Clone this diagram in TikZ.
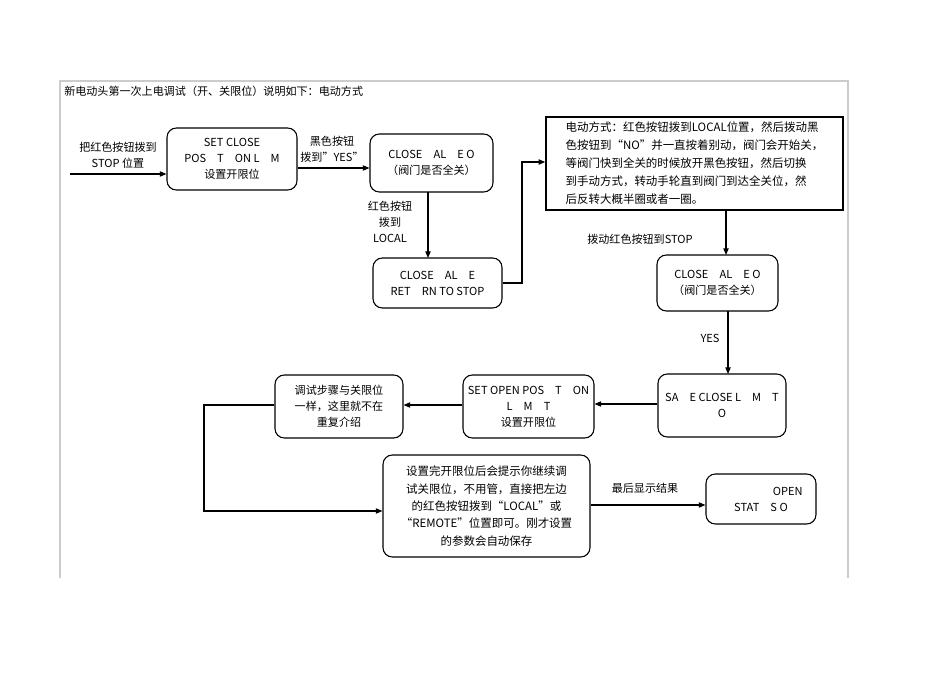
\documentclass[tikz,border=0pt]{standalone}
\usepackage{fontspec}
\setmainfont{Noto Sans CJK SC}
\usetikzlibrary{arrows.meta}
\newdimen\px \px=0.75pt
\begin{document}
\begin{tikzpicture}[x=0.75pt,y=-0.75pt,font=\fontsize{8.3}{12}\selectfont,
  rbox/.style={draw,thick,rounded corners=7pt,align=center,inner sep=0pt},
  conn/.style={thick,-{Triangle[length=5pt,width=4pt]}},
  lbl/.style={align=center,inner sep=1pt}]
\useasboundingbox (0,0) rectangle (950,672);
\draw[gray!40,thick] (60,578) -- (60,81) -- (848,81) -- (848,578);
\node[anchor=west,inner sep=0pt] (title) at (64,91) {新电动头第一次上电调试（开、关限位）说明如下：电动方式};
\node[rbox,minimum width=130\px,minimum height=62\px] (A) at (232,159) {SET CLOSE\\POS\quad T\quad ON L\quad M\\设置开限位};
\node[rbox,minimum width=123\px,minimum height=58\px] (B) at (431.5,163) {CLOSE\quad AL\quad E O\\（阀门是否全关）};
\node[rbox,minimum width=129\px,minimum height=50\px] (C) at (437.5,283) {CLOSE\quad AL\quad E\\RET\quad RN TO STOP};
\node[draw,very thick,minimum width=297\px,minimum height=93\px,align=left,inner sep=2pt,font=\fontsize{8.6}{13.5}\selectfont] (D) at (694.5,163.5) {电动方式：红色按钮拨到LOCAL位置，然后拨动黑\\色按钮到“NO”并一直按着别动，阀门会开始关，\\等阀门快到全关的时候放开黑色按钮，然后切换\\到手动方式，转动手轮直到阀门到达全关位，然\\后反转大概半圈或者一圈。};
\node[rbox,minimum width=121\px,minimum height=56\px] (E) at (717.5,283) {CLOSE\quad AL\quad E O\\（阀门是否全关）};
\node[rbox,minimum width=128\px,minimum height=63\px] (F) at (722,405.5) {SA\quad E CLOSE L\quad M\quad T\\O};
\node[rbox,minimum width=131\px,minimum height=63\px] (G) at (528.5,406.5) {SET OPEN POS\quad T\quad ON\\L\quad M\quad T\\设置开限位};
\node[rbox,minimum width=128\px,minimum height=63\px] (H) at (339,406.5) {调试步骤与关限位\\一样，这里就不在\\重复介绍};
\node[rbox,minimum width=207\px,minimum height=102\px,font=\fontsize{8.6}{13}\selectfont] (I) at (486.5,506) {设置完开限位后会提示你继续调\\试关限位，不用管，直接把左边\\的红色按钮拨到“LOCAL”或\\“REMOTE”位置即可。刚才设置\\的参数会自动保存};
\node[rbox,minimum width=110\px,minimum height=50\px] (J) at (761,499) {\hspace{40pt}OPEN\\STAT\quad S O\hspace{20pt}};
\coordinate (in) at (70,174);
\draw[conn] (in) -- (A.west|-in);
\node[lbl] at (118,155) {把红色按钮拨到\\STOP 位置};
\draw[conn] (A.east|-0,168) -- (B.west|-0,168);
\node[lbl] at (332,149) {黑色按钮\\拨到"YES"};
\draw[conn] (428,192) -- (428,258);
\node[lbl] at (390,222) {红色按钮\\拨到\\LOCAL};
\coordinate (c1) at (522,283);
\coordinate (c2) at (522,162);
\draw[conn] (C.east) -- (c1) -- (c2) -- (D.west|-c2);
\draw[conn] (726,210) -- (726,255);
\node[lbl] at (640,239) {拨动红色按钮到STOP};
\draw[conn] (728,311) -- (728,374);
\node[lbl] at (710,338) {YES};
\draw[conn] (F.west|-0,404) -- (G.east|-0,404);
\draw[conn] (G.west|-0,405) -- (H.east|-0,405);
\coordinate (h1) at (204,405);
\coordinate (h2) at (204,511);
\draw[conn] (H.west|-h1) -- (h1) -- (h2) -- (I.west|-h2);
\draw[conn] (I.east|-0,505) -- (J.west|-0,505);
\node[lbl] at (645,488) {最后显示结果};
\end{tikzpicture}
\end{document}
